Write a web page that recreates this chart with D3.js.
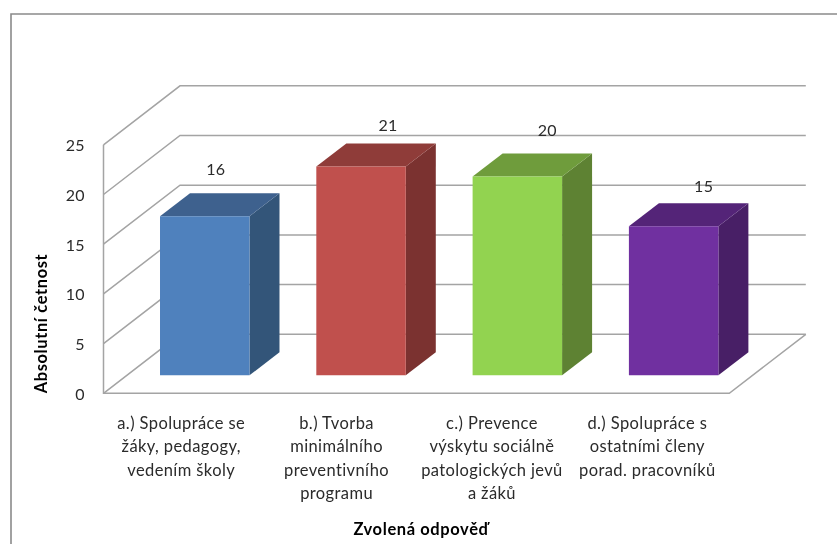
<!DOCTYPE html>
<html><head><meta charset="utf-8">
<script src="https://cdn.jsdelivr.net/npm/d3@7"></script>
<style>
html,body{margin:0;padding:0;background:#fff}
svg{display:block;filter:blur(0.35px)}
text{font-family:Lato,"Open Sans",sans-serif;fill:#2b2b2b}
</style></head><body>
<svg id="c" width="837" height="544"></svg>
<script>
const categories = ["a","b","c","d"];
const categoryLines = [
  ["a.) Spolupráce se","žáky, pedagogy,","vedením školy"],
  ["b.) Tvorba","minimálního","preventivního","programu"],
  ["c.) Prevence","výskytu sociálně","patologických jevů","a žáků"],
  ["d.) Spolupráce s","ostatními členy","porad. pracovníků"]
];
const values = [16,21,20,15];
const yTicks = [0,5,10,15,20,25];
const frontColors = ["#4f81bd","#c0504d","#92d350","#7030a0"];
const topColors   = ["#3e618e","#8f3c39","#6f9c3c","#542478"];
const sideColors  = ["#335579","#7b3230","#5e8233","#481f66"];
const yAxisTitle = "Absolutní četnost";
const xAxisTitle = "Zvolená odpověď";

// layout constants
const wall = {x0:103.5, x1:729.3, dx:76.5, dy:-59};
const barDepth = {dx:30, dy:-23};
const barLift = 18;
const valueNudge = [{x:-4,y:-18},{x:12,y:-12.7},{x:15,y:-17.7},{x:15,y:-11}];

const svg = d3.select("#c");
const y = d3.scaleLinear().domain([0,25]).range([393.3,144.8]);
const xBar = d3.scaleBand().domain(categories).range([126.6,751.8]).paddingInner(.4275).paddingOuter(.21375);
const xLab = d3.scaleBand().domain(categories).range([103.5,725]);
const line = d3.line();

// outer frame
svg.append("path").attr("d",line([[11,544],[11,14],[837,14]]))
  .attr("fill","none").attr("stroke","#8a8a8a").attr("stroke-width",1.6);

// walls
const grid = svg.append("g").attr("fill","none").attr("stroke","#a4a4a4").attr("stroke-width",1.5);
grid.selectAll("path.t").data(yTicks).join("path").attr("class","t")
  .attr("d",t=>line([[wall.x0,y(t)],[wall.x0+wall.dx,y(t)+wall.dy],[wall.x1+wall.dx,y(t)+wall.dy]]));
grid.append("path").attr("d",line([[wall.x0,y(25)],[wall.x0,y(0)],[wall.x1,y(0)],[wall.x1+wall.dx,y(0)+wall.dy]]));

// bars
const bars = svg.append("g").selectAll("g").data(values).join("g");
bars.each(function(v,i){
  const g = d3.select(this), c = categories[i];
  const l = xBar(c), r = l+xBar.bandwidth();
  const b = y(0)-barLift, t = y(v)-barLift;
  const d = barDepth;
  g.append("path").attr("fill",sideColors[i]).attr("d",line([[r,t],[r+d.dx,t+d.dy],[r+d.dx,b+d.dy],[r,b]])+"Z");
  g.append("path").attr("fill",topColors[i]).attr("d",line([[l,t],[l+d.dx,t+d.dy],[r+d.dx,t+d.dy],[r,t]])+"Z");
  g.append("path").attr("fill",frontColors[i]).attr("d",line([[l,t],[r,t],[r,b],[l,b]])+"Z");
});

// value labels
svg.append("g").selectAll("text").data(values).join("text")
  .attr("text-anchor","middle").attr("font-size",16).attr("letter-spacing",.3)
  .attr("x",(v,i)=>xBar(categories[i])+xBar.bandwidth()/2+barDepth.dx/2+valueNudge[i].x)
  .attr("y",(v,i)=>y(v)-barLift+barDepth.dy+valueNudge[i].y)
  .text(v=>v);

// y axis labels
const axis = svg.append("g").attr("transform","translate(84.8,0.8)")
  .call(d3.axisLeft(y).tickValues(yTicks).tickSize(0).tickPadding(0));
axis.select(".domain").remove();
axis.selectAll("text").attr("font-size",16).attr("letter-spacing",.3).style("font-family","Lato,'Open Sans',sans-serif").style("fill","#2b2b2b");

// category labels
const cat = svg.append("g").selectAll("text").data(categoryLines).join("text")
  .attr("text-anchor","middle").attr("font-size",16.5).attr("letter-spacing",.4);
cat.selectAll("tspan").data((d,i)=>d.map(s=>({s,i}))).join("tspan")
  .attr("x",d=>xLab(categories[d.i])+xLab.bandwidth()/2)
  .attr("y",(d,j)=>429+j*23.3)
  .text(d=>d.s);

// axis titles
svg.append("text").attr("transform","translate(46.5,323.5) rotate(-90)")
  .attr("text-anchor","middle").attr("font-size",16.5).attr("letter-spacing",.6).attr("font-weight",700).style("fill","#000").text(yAxisTitle);
svg.append("text").attr("x",421).attr("y",534.5)
  .attr("text-anchor","middle").attr("font-size",16.5).attr("letter-spacing",.6).attr("font-weight",700).style("fill","#000").text(xAxisTitle);
</script>
</body></html>
